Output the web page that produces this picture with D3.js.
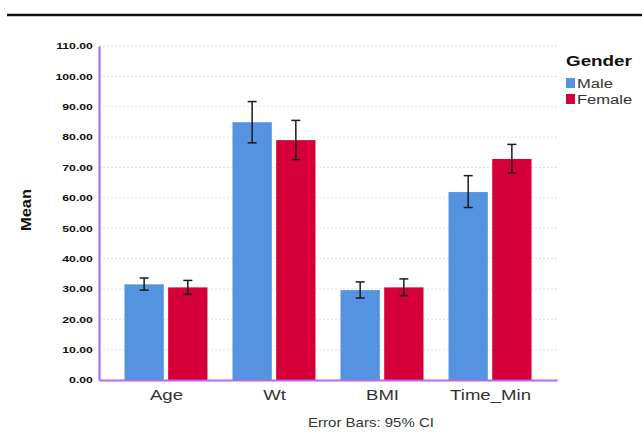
<!DOCTYPE html>
<html>
<head>
<meta charset="utf-8">
<script src="https://cdn.jsdelivr.net/npm/d3@7"></script>
<style>
  body { margin: 0; background: #fff; }
  text { font-family: Arial, "Liberation Sans", sans-serif; }
</style>
</head>
<body>
<svg id="chart" width="642" height="439"></svg>
<script>
// chart values
var categories = ["Age", "Wt", "BMI", "Time_Min"];
var groups = ["Male", "Female"];
var maleMean = [31.5, 84.9, 29.6, 61.9];
var maleLow = [29.6, 78.1, 27.0, 56.8];
var maleHigh = [33.6, 91.7, 32.3, 67.3];
var femaleMean = [30.5, 79.0, 30.5, 72.8];
var femaleLow = [28.2, 72.6, 27.8, 68.2];
var femaleHigh = [32.8, 85.5, 33.3, 77.6];
var yTicks = [0, 10, 20, 30, 40, 50, 60, 70, 80, 90, 100, 110];
var colors = ["#5592e0", "#d5003a"];

var svg = d3.select('#chart');

var plotLeft = 99, plotRight = 557, plotTop = 46, plotBottom = 380;

// the source picture is stretched sideways, so widen glyphs the same way
function widen(sel, k) {
  sel.attr('transform', 'scale(' + k + ',1)');
}

var x = d3.scalePoint()
    .domain(categories)
    .range([plotLeft, plotRight])
    .padding(0.62);

var sub = d3.scaleBand()
    .domain(groups)
    .range([-41.5, 41.5])
    .paddingInner(0.1);

var y = d3.scaleLinear()
    .domain([0, 110])
    .range([plotBottom, plotTop]);

// top rule
svg.append('line')
  .attr('x1', 7).attr('x2', 642)
  .attr('y1', 15).attr('y2', 15)
  .attr('stroke', '#111')
  .attr('stroke-width', 2.5);

// grid lines
svg.append('g').selectAll('line')
  .data(yTicks.slice(1))
  .enter().append('line')
  .attr('x1', plotLeft).attr('x2', plotRight)
  .attr('y1', function(d) { return y(d); })
  .attr('y2', function(d) { return y(d); })
  .attr('stroke', '#e0e0e0')
  .attr('stroke-width', 1)
  .attr('stroke-dasharray', '2,2');

// data rows
var rows = [];
categories.forEach(function(c, i) {
  rows.push({cat: c, grp: 'Male', mean: maleMean[i], lo: maleLow[i], hi: maleHigh[i], col: colors[0]});
  rows.push({cat: c, grp: 'Female', mean: femaleMean[i], lo: femaleLow[i], hi: femaleHigh[i], col: colors[1]});
});

function barX(d) { return x(d.cat) + sub(d.grp); }
function barMid(d) { return barX(d) + sub.bandwidth() / 2; }

svg.append('g').selectAll('rect')
  .data(rows)
  .enter().append('rect')
  .attr('x', barX)
  .attr('width', sub.bandwidth())
  .attr('y', function(d) { return y(d.mean); })
  .attr('height', function(d) { return y(0) - y(d.mean); })
  .attr('fill', function(d) { return d.col; });

// error bars
var err = svg.append('g').selectAll('g')
  .data(rows)
  .enter().append('g')
  .attr('stroke', '#1a1a1a')
  .attr('stroke-width', 1.5);

err.append('line')
  .attr('x1', barMid).attr('x2', barMid)
  .attr('y1', function(d) { return y(d.lo); })
  .attr('y2', function(d) { return y(d.hi); });

err.append('line')
  .attr('x1', function(d) { return barMid(d) - 4.5; })
  .attr('x2', function(d) { return barMid(d) + 4.5; })
  .attr('y1', function(d) { return y(d.hi); })
  .attr('y2', function(d) { return y(d.hi); });

err.append('line')
  .attr('x1', function(d) { return barMid(d) - 4.5; })
  .attr('x2', function(d) { return barMid(d) + 4.5; })
  .attr('y1', function(d) { return y(d.lo); })
  .attr('y2', function(d) { return y(d.lo); });

// axes
var yAxis = svg.append('g')
  .attr('transform', 'translate(' + plotLeft + ',0)')
  .call(d3.axisLeft(y).tickValues(yTicks).tickSize(0).tickPadding(4.5)
    .tickFormat(function(d) { return d3.format('.2f')(d); }));
yAxis.select('.domain').attr('stroke', '#b56be6').attr('stroke-width', 2.2);
yAxis.selectAll('text')
  .attr('font-size', '9px')
  .attr('font-weight', 'bold')
  .attr('fill', '#111')
  .style('font-family', 'Arial, "Liberation Sans", sans-serif')
  .call(widen, 1.36);

var xAxis = svg.append('g')
  .attr('transform', 'translate(0,' + plotBottom + ')')
  .call(d3.axisBottom(x).tickSize(0).tickPadding(9));
xAxis.select('.domain').attr('stroke', '#b56be6').attr('stroke-width', 2.2);
xAxis.selectAll('text')
  .attr('font-size', '15px')
  .attr('fill', '#333')
  .style('font-family', 'Arial, "Liberation Sans", sans-serif')
  .call(widen, 1.24);

// axis title
svg.append('g')
  .attr('transform', 'translate(31,210) rotate(-90)')
  .append('text')
  .attr('text-anchor', 'middle')
  .attr('font-size', '15px')
  .attr('font-weight', 'bold')
  .attr('fill', '#111')
  .text('Mean')
  .call(widen, 1.1);

// footnote
svg.append('g')
  .attr('transform', 'translate(371,427)')
  .append('text')
  .attr('text-anchor', 'middle')
  .attr('font-size', '12.5px')
  .attr('fill', '#333')
  .text('Error Bars: 95% CI')
  .call(widen, 1.2);

// legend
var legend = svg.append('g').attr('transform', 'translate(566,0)');
legend.append('g')
  .attr('transform', 'translate(0,66)')
  .append('text')
  .attr('font-size', '14.5px')
  .attr('font-weight', 'bold')
  .attr('fill', '#111')
  .text('Gender')
  .call(widen, 1.3);

var item = legend.selectAll('g.item')
  .data(groups)
  .enter().append('g')
  .attr('class', 'item')
  .attr('transform', function(d, i) { return 'translate(0,' + (78 + i * 16) + ')'; });

item.append('rect')
  .attr('width', 9).attr('height', 10)
  .attr('fill', function(d, i) { return colors[i]; });

item.append('g')
  .attr('transform', 'translate(11,9.5)')
  .append('text')
  .attr('font-size', '12px')
  .attr('fill', '#333')
  .text(function(d) { return d; })
  .call(widen, 1.38);
</script>
</body>
</html>
